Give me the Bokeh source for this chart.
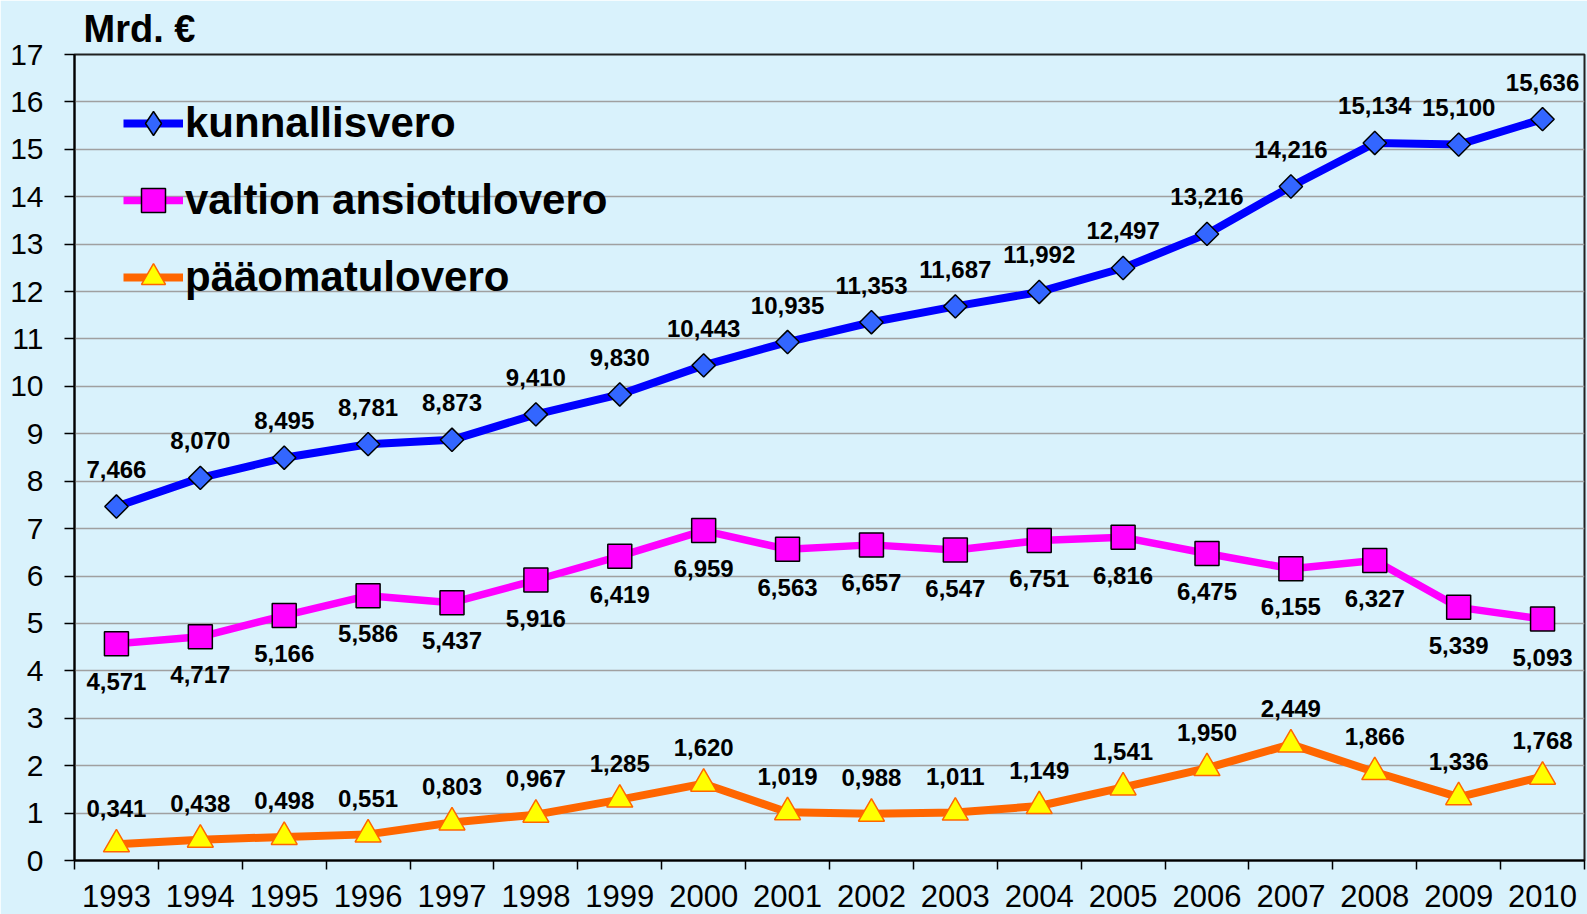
import math
from bokeh.plotting import figure
from bokeh.models import (ColumnDataSource, FactorRange, Range1d, LinearAxis, CategoricalAxis,
                          FixedTicker, LabelSet, Legend, LegendItem)
from bokeh.core.properties import value
from bokeh.embed import file_html
from bokeh.resources import INLINE

# ---- data ----
years = [str(y) for y in range(1993, 2011)]
kunnallisvero = [7.466, 8.070, 8.495, 8.781, 8.873, 9.410, 9.830, 10.443, 10.935,
                 11.353, 11.687, 11.992, 12.497, 13.216, 14.216, 15.134, 15.100, 15.636]
valtion_ansiotulovero = [4.571, 4.717, 5.166, 5.586, 5.437, 5.916, 6.419, 6.959, 6.563,
                         6.657, 6.547, 6.751, 6.816, 6.475, 6.155, 6.327, 5.339, 5.093]
paaomatulovero = [0.341, 0.438, 0.498, 0.551, 0.803, 0.967, 1.285, 1.620, 1.019,
                  0.988, 1.011, 1.149, 1.541, 1.950, 2.449, 1.866, 1.336, 1.768]
series_names = ["kunnallisvero", "valtion ansiotulovero", "pääomatulovero"]
y_ticks = list(range(0, 18))
y_label = "Mrd. €"

BG = "#D9F2FC"
FONT = "Liberation Sans"


def fmt(v):
    return f"{v:.3f}".replace(".", ",")


src = ColumnDataSource(dict(
    year=years,
    k=kunnallisvero, v=valtion_ansiotulovero, p=paaomatulovero,
    k_lbl=[fmt(v) for v in kunnallisvero],
    v_lbl=[fmt(v) for v in valtion_ansiotulovero],
    p_lbl=[fmt(v) for v in paaomatulovero],
))

p = figure(width=1587, height=914,
           x_range=FactorRange(factors=years, range_padding=0),
           y_range=Range1d(0, 17),
           x_axis_type=None,
           output_backend="svg", toolbar_location=None,
           background_fill_color=BG, border_fill_color=BG,
           min_border_left=74, min_border_right=3, min_border_top=54, min_border_bottom=54)

# title
p.title.text = y_label
p.title.text_font = FONT
p.title.text_font_size = "38px"
p.title.text_font_style = "bold"
p.title.align = "left"
p.title.offset = 9
p.title.standoff = 10
p.title.text_color = "black"

# outline
p.outline_line_color = "#202020"
p.outline_line_width = 2

# y axis
ya = p.yaxis[0]
ya.ticker = FixedTicker(ticks=y_ticks)
ya.major_tick_out = 10
ya.major_tick_in = 0
ya.minor_tick_line_color = None
ya.axis_line_width = 2
ya.axis_line_color = "black"
ya.major_tick_line_color = "black"
ya.major_tick_line_width = 1.5
ya.major_label_text_font = FONT
ya.major_label_text_font_size = "30px"
ya.major_label_text_color = "black"
ya.major_label_standoff = 21

p.ygrid.ticker = FixedTicker(ticks=y_ticks)
p.ygrid.grid_line_color = "#A0A0A0"
p.ygrid.grid_line_width = 1.5

# x axis: tick marks between categories (synthetic coordinates 0..N) + category labels
tick_axis = LinearAxis(ticker=FixedTicker(ticks=list(range(len(years) + 1))),
                       major_tick_out=9, major_tick_in=0,
                       minor_tick_line_color=None,
                       axis_line_width=2, axis_line_color="black",
                       major_tick_line_color="black", major_tick_line_width=1.5,
                       major_label_text_color=None, major_label_standoff=0)
p.add_layout(tick_axis, "below")
label_axis = CategoricalAxis(axis_line_color=None, major_tick_line_color=None,
                             major_label_text_font=FONT, major_label_text_font_size="31px",
                             major_label_text_color="black", major_label_standoff=9)
p.add_layout(label_axis, "below")

# series
l1 = p.line("year", "k", source=src, line_color="#0000FF", line_width=8)
m1 = p.scatter("year", "k", source=src, marker="square", angle=math.pi / 4, size=16.5,
               fill_color="#3366FF", line_color="black", line_width=1.5)
m1_key = p.scatter("year", "k", source=src, marker="diamond", size=24, visible=False,
                   fill_color="#3366FF", line_color="black", line_width=1.5)
l2 = p.line("year", "v", source=src, line_color="#FF00FF", line_width=7.5)
m2 = p.scatter("year", "v", source=src, marker="square", size=24,
               fill_color="#FF00FF", line_color="black", line_width=1.5)
l3 = p.line("year", "p", source=src, line_color="#FF6600", line_width=8)
m3 = p.scatter("year", "p", source=src, marker="triangle", size=26,
               fill_color="#FFFF00", line_color="#FF6600", line_width=1.5)

lbl_kw = dict(source=src, text_align="center", text_baseline="middle",
              text_font=value(FONT), text_font_size="24px", text_font_style="bold",
              text_color="black")
p.add_layout(LabelSet(x="year", y="k", text="k_lbl", y_offset=37, **lbl_kw))
p.add_layout(LabelSet(x="year", y="v", text="v_lbl", y_offset=-38, **lbl_kw))
p.add_layout(LabelSet(x="year", y="p", text="p_lbl", y_offset=36, **lbl_kw))

legend = Legend(items=[LegendItem(label=series_names[0], renderers=[l1, m1_key]),
                       LegendItem(label=series_names[1], renderers=[l2, m2]),
                       LegendItem(label=series_names[2], renderers=[l3, m3])],
                location=(49, 553), padding=0, margin=0,
                background_fill_alpha=0, border_line_color=None,
                glyph_width=60, glyph_height=60, label_height=60, spacing=17,
                label_standoff=2, label_text_font=FONT, label_text_font_size="42px",
                label_text_font_style="bold", label_text_color="black")
p.add_layout(legend)

open("out.html", "w").write(file_html(p, INLINE))
